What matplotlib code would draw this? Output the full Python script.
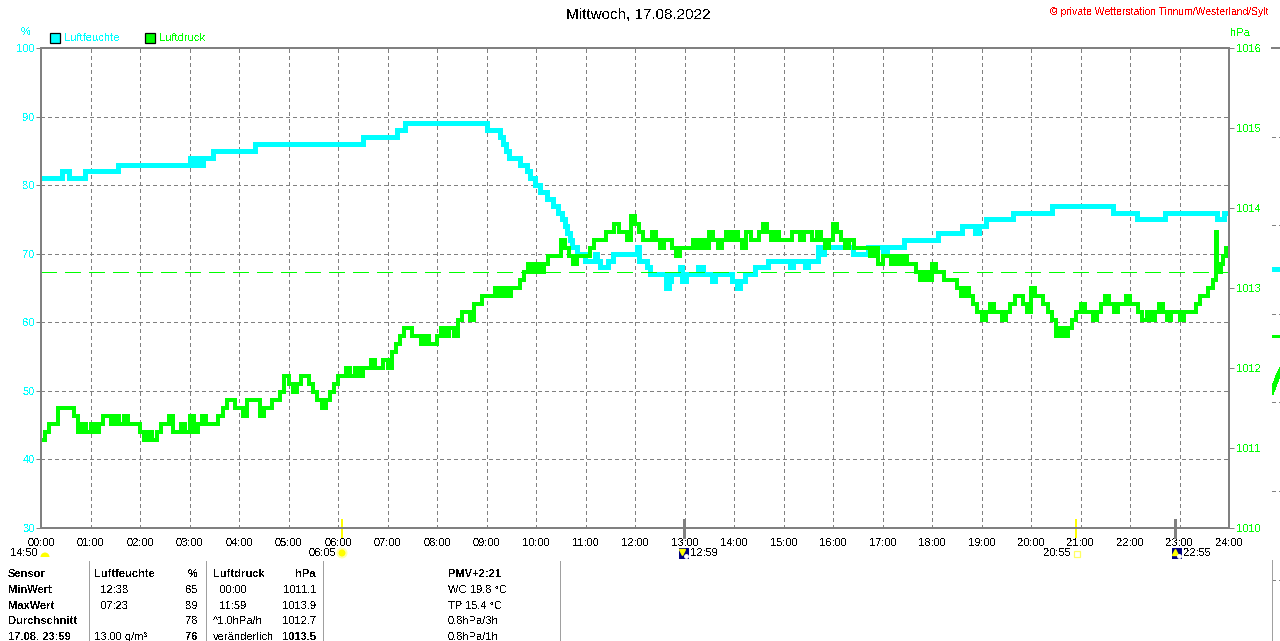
import matplotlib
matplotlib.use("Agg")
import matplotlib.pyplot as plt
import matplotlib.transforms as mtransforms
from matplotlib.lines import Line2D
from matplotlib.patches import Rectangle, Wedge, Circle
import numpy as np

plt.rcParams['font.family'] = ['Liberation Sans', 'DejaVu Sans']
plt.rcParams['text.antialiased'] = False
plt.rcParams['lines.antialiased'] = False

# ---------------- data ----------------
title = "Mittwoch, 17.08.2022"
credit = "\u00a9 private Wetterstation Tinnum/Westerland/Sylt"
hour_labels = ["00:00", "01:00", "02:00", "03:00", "04:00", "05:00", "06:00", "07:00",
               "08:00", "09:00", "10:00", "11:00", "12:00", "13:00", "14:00", "15:00",
               "16:00", "17:00", "18:00", "19:00", "20:00", "21:00", "22:00", "23:00", "24:00"]
hum_ticks = [30, 40, 50, 60, 70, 80, 90, 100]
press_ticks = [1010, 1011, 1012, 1013, 1014, 1015, 1016]

# relative humidity (%), step changes
hum_change_times = ["00:00", "00:25", "00:34", "00:53", "01:33", "03:01", "03:05", "03:09", "03:13", "03:16",
                    "03:28", "04:19", "06:30", "07:12", "07:21", "09:01", "09:16", "09:20", "09:24", "09:27",
                    "09:41", "09:49", "09:53", "09:59", "10:05", "10:13", "10:21", "10:27", "10:32", "10:35",
                    "10:38", "10:41", "10:44", "10:50", "10:59", "11:12", "11:14", "11:18", "11:27", "11:33",
                    "12:02", "12:05", "12:15", "12:18", "12:38", "12:41", "12:44", "12:55", "12:57", "13:02",
                    "13:16", "13:22", "13:33", "13:37", "13:58", "14:04", "14:07", "14:13", "14:25", "14:41",
                    "15:08", "15:12", "15:26", "15:30", "15:42", "15:45", "15:49", "16:24", "16:42", "17:01",
                    "17:05", "17:26", "18:07", "18:36", "18:52", "18:57", "19:05", "19:38", "20:25", "21:39",
                    "22:08", "22:43", "23:46", "23:54", "24:00"]
hum_values = [81, 82, 81, 82, 83, 84, 83, 84, 83, 84,
              85, 86, 87, 88, 89, 88, 87, 86, 85, 84,
              83, 82, 81, 80, 79, 78, 77, 76, 75, 74,
              73, 72, 71, 70, 69, 70, 69, 68, 69, 70,
              71, 69, 68, 67, 65, 66, 67, 68, 66, 67,
              68, 67, 66, 67, 66, 65, 66, 67, 68, 69,
              68, 69, 68, 69, 71, 70, 71, 70, 71, 70,
              71, 72, 73, 74, 73, 74, 75, 76, 77, 76,
              75, 76, 75, 76, 76]

# air pressure (hPa), every 5 minutes from 00:00 to 23:40
press_step_minutes = 5
press_values = [
    1011.1, 1011.2, 1011.3, 1011.3, 1011.5, 1011.5, 1011.5, 1011.5, 1011.4, 1011.2, 1011.3, 1011.2,
    1011.3, 1011.2, 1011.3, 1011.4, 1011.4, 1011.3, 1011.4, 1011.3, 1011.4, 1011.3, 1011.3, 1011.3,
    1011.2, 1011.1, 1011.2, 1011.1, 1011.2, 1011.3, 1011.3, 1011.4, 1011.2, 1011.2, 1011.3, 1011.2,
    1011.4, 1011.2, 1011.3, 1011.4, 1011.3, 1011.3, 1011.3, 1011.4, 1011.5, 1011.6, 1011.6, 1011.5,
    1011.5, 1011.4, 1011.6, 1011.6, 1011.6, 1011.4, 1011.5, 1011.5, 1011.6, 1011.6, 1011.7, 1011.9,
    1011.8, 1011.7, 1011.8, 1011.9, 1011.9, 1011.8, 1011.7, 1011.6, 1011.5, 1011.6, 1011.7, 1011.8,
    1011.9, 1011.9, 1012.0, 1011.9, 1012.0, 1011.9, 1012.0, 1012.0, 1012.1, 1012.0, 1012.0, 1012.1,
    1012.0, 1012.2, 1012.3, 1012.4, 1012.5, 1012.5, 1012.4, 1012.4, 1012.3, 1012.4, 1012.3, 1012.3,
    1012.4, 1012.5, 1012.4, 1012.5, 1012.4, 1012.6, 1012.7, 1012.7, 1012.6, 1012.8, 1012.8, 1012.9,
    1012.9, 1012.9, 1013.0, 1012.9, 1013.0, 1012.9, 1013.0, 1013.0, 1013.1, 1013.2, 1013.3, 1013.2,
    1013.3, 1013.2, 1013.3, 1013.4, 1013.4, 1013.4, 1013.6, 1013.5, 1013.4, 1013.3, 1013.4, 1013.4,
    1013.4, 1013.5, 1013.6, 1013.6, 1013.6, 1013.7, 1013.7, 1013.8, 1013.7, 1013.7, 1013.6, 1013.9,
    1013.8, 1013.7, 1013.6, 1013.6, 1013.7, 1013.6, 1013.5, 1013.6, 1013.6, 1013.5, 1013.4, 1013.5,
    1013.5, 1013.5, 1013.6, 1013.5, 1013.6, 1013.5, 1013.7, 1013.6, 1013.5, 1013.6, 1013.7, 1013.6,
    1013.7, 1013.6, 1013.5, 1013.7, 1013.6, 1013.6, 1013.7, 1013.8, 1013.7, 1013.6, 1013.7, 1013.6,
    1013.6, 1013.6, 1013.7, 1013.7, 1013.6, 1013.7, 1013.7, 1013.6, 1013.7, 1013.6, 1013.5, 1013.6,
    1013.8, 1013.7, 1013.6, 1013.5, 1013.6, 1013.5, 1013.5, 1013.5, 1013.5, 1013.4, 1013.5, 1013.3,
    1013.4, 1013.4, 1013.3, 1013.4, 1013.3, 1013.4, 1013.3, 1013.3, 1013.2, 1013.1, 1013.2, 1013.1,
    1013.3, 1013.2, 1013.2, 1013.1, 1013.1, 1013.1, 1013.0, 1012.9, 1013.0, 1012.9, 1012.8, 1012.7,
    1012.6, 1012.7, 1012.8, 1012.7, 1012.7, 1012.6, 1012.7, 1012.8, 1012.9, 1012.9, 1012.8, 1012.7,
    1013.0, 1012.9, 1012.9, 1012.8, 1012.7, 1012.6, 1012.4, 1012.5, 1012.4, 1012.5, 1012.6, 1012.7,
    1012.8, 1012.7, 1012.7, 1012.6, 1012.7, 1012.8, 1012.9, 1012.8, 1012.7, 1012.8, 1012.8, 1012.9,
    1012.8, 1012.8, 1012.7, 1012.6, 1012.7, 1012.6, 1012.7, 1012.8, 1012.7, 1012.6, 1012.7, 1012.7,
    1012.6, 1012.7, 1012.7, 1012.7, 1012.8, 1012.9, 1012.9, 1013.0, 1013.1]
# last minutes of the day (spike and rise)
press_tail_times = ["23:44", "23:45", "23:47", "23:50", "23:53", "23:56", "24:00"]
press_tail_values = [1013.7, 1013.2, 1013.2, 1013.3, 1013.4, 1013.5, 1013.5]
press_reference = 1013.2

# sun / moon events
sunrise, sunset = "06:05", "20:55"
moon_events = ["12:59", "22:55"]
moon_prev = "14:50"

# summary table
table_header = ["Sensor", "Luftfeuchte", "%", "Luftdruck", "hPa", "PMV+2:21"]
row_labels = ["MinWert", "MaxWert", "Durchschnitt", "17.08. 23:59"]
hum_time_col = ["  12:38", "  07:23", "", "13.00 g/m\u00b3"]
hum_val_col = ["65", "89", "78", "76"]
press_time_col = ["  00:00", "  11:59", "^1.0hPa/h", "ver\u00e4nderlich"]
press_val_col = ["1011.1", "1013.9", "1012.7", "1013.5"]
extra_col = ["WC 19.8 \u00b0C", "TP 15.4 \u00b0C", "0.8hPa/3h", "0.8hPa/1h"]

# neighbouring panel fragment at the right edge
next_hum_times = [0.0, 0.2]
next_hum = [67.8, 67.8]
next_press_times = [0.0, 0.06, 0.12, 0.2]
next_press = [1011.7, 1011.8, 1011.9, 1012.0]
next_ref = 1012.4

# ---------------- styling ----------------
W, H = 1280, 641
CYAN = "#00FFFF"
GREEN = "#00FF00"
GRAY = "#808080"
YELLOW = "#FFFF00"
NAVY = "#000080"
FS = 8


def to_hours(s):
    h, m = s.split(":")
    return int(h) + int(m) / 60.0


def fx(px):
    return px / W


def fy(py):
    return 1 - py / H


ident = mtransforms.IdentityTransform()

fig = plt.figure(figsize=(W / 100, H / 100), dpi=100)
fig.patch.set_facecolor("white")

ax = fig.add_axes([fx(41), fy(528), 1188 / W, 480 / H])
ax.set_xlim(0, 24)
ax.set_ylim(30, 100)
ax.set_xticks(range(25))
ax.set_xticklabels(hour_labels)
ax.set_yticks(hum_ticks)
ax.grid(True, color=GRAY, linewidth=0.72, linestyle=(0, (4, 3)))
ax.set_axisbelow(True)
ax.tick_params(axis="x", length=0, pad=7, labelsize=FS, labelcolor="black")
ax.tick_params(axis="y", length=3.3, width=0.72, color=GRAY, labelcolor=CYAN,
               labelsize=FS, pad=1.2)
for sp in ax.spines.values():
    sp.set_color(GRAY)
    sp.set_linewidth(1.44)

ht = [to_hours(t) for t in hum_change_times]
ax.step(ht, hum_values, where="post", color=CYAN, lw=2.5, solid_joinstyle="miter")

ax2 = ax.twinx()
ax2.set_ylim(1010, 1016)
ax2.set_yticks(press_ticks)
ax2.tick_params(axis="y", length=3.6, width=0.72, color=GRAY, labelcolor=GREEN,
                labelsize=FS, pad=1.2)
for sp in ax2.spines.values():
    sp.set_color(GRAY)
    sp.set_linewidth(1.44)
ax2.axhline(press_reference, color=GREEN, lw=0.9, linestyle=(0, (12, 6.4)))
pt = list(np.arange(len(press_values)) * press_step_minutes / 60.0)
pt += [to_hours(t) for t in press_tail_times]
pv = list(press_values) + list(press_tail_values)
ax2.step(pt, pv, where="post", color=GREEN, lw=2.7, solid_joinstyle="miter")

# event tick marks below the axis
blend = mtransforms.blended_transform_factory(ax.transData, ident)
for ev in (sunrise, sunset):
    ax.plot([to_hours(ev)] * 2, [H - 537, H - 520], transform=blend, color=YELLOW,
            lw=1.44, clip_on=False)
for ev in moon_events:
    ax.plot([to_hours(ev)] * 2, [H - 537, H - 520], transform=blend, color=GRAY,
            lw=1.8, clip_on=False)

# ---------------- texts ----------------
fig.text(fx(638), fy(15), title, ha="center", va="center", fontsize=11, color="black")
fig.text(fx(1268), fy(12), credit, ha="right", va="center", fontsize=7.5, color="red")
fig.text(fx(26), fy(32), "%", ha="center", va="center", fontsize=FS, color=CYAN)
fig.text(fx(1240), fy(33), "hPa", ha="center", va="center", fontsize=FS, color=GREEN)

# legend
fig.add_artist(Rectangle((50, H - 43), 10, 10, transform=ident, facecolor=CYAN,
                         edgecolor="black", lw=0.9))
fig.text(fx(64), fy(38), "Luftfeuchte", ha="left", va="center", fontsize=FS, color=CYAN)
fig.add_artist(Rectangle((145, H - 43), 10, 10, transform=ident, facecolor=GREEN,
                         edgecolor="black", lw=0.9))
fig.text(fx(159), fy(38), "Luftdruck", ha="left", va="center", fontsize=FS, color=GREEN)

# sun / moon labels
ey = 553
fig.text(fx(38), fy(ey), moon_prev, ha="right", va="center", fontsize=FS, color="black")
fig.add_artist(Wedge((45, H - 557), 4.5, 0, 180, transform=ident, facecolor=YELLOW,
                     edgecolor="none"))
fig.text(fx(336), fy(ey), sunrise, ha="right", va="center", fontsize=FS, color="black")
fig.add_artist(Circle((342, H - 553), 5.5, transform=ident, facecolor="#FFFFB0",
                      edgecolor="none"))
fig.add_artist(Circle((342, H - 553), 3.5, transform=ident, facecolor=YELLOW,
                      edgecolor="none"))
fig.text(fx(1071), fy(ey), sunset, ha="right", va="center", fontsize=FS, color="black")
fig.add_artist(Rectangle((1074, H - 557), 6, 6, transform=ident, fill=False,
                         edgecolor="#FFFF60", lw=0.9))
for ev, box_x, mk in ((moon_events[0], 679, "v"), (moon_events[1], 1172, "^")):
    fig.add_artist(Rectangle((box_x, H - 559), 10, 11, transform=ident, facecolor=NAVY,
                             edgecolor="none"))
    fig.add_artist(Line2D([box_x + 3], [H - 552], transform=ident, marker=mk, ms=4,
                          color=YELLOW, lw=0))
    fig.add_artist(Line2D([box_x + 7], [H - 556], transform=ident, marker="o", ms=2.5,
                          color="white", lw=0))
    fig.text(fx(box_x + 11), fy(ey), ev, ha="left", va="center", fontsize=FS, color="black")

# table separators
for sx in (89, 206, 323, 560):
    fig.add_artist(Line2D([sx, sx], [0, H - 561], transform=ident, color="#A0A0A0", lw=0.72))

row_y = [574, 590, 606, 621, 637]
fig.text(fx(8), fy(row_y[0]), table_header[0], ha="left", va="center", fontsize=FS, weight="bold")
fig.text(fx(94), fy(row_y[0]), table_header[1], ha="left", va="center", fontsize=FS, weight="bold")
fig.text(fx(198), fy(row_y[0]), table_header[2], ha="right", va="center", fontsize=FS, weight="bold")
fig.text(fx(213), fy(row_y[0]), table_header[3], ha="left", va="center", fontsize=FS, weight="bold")
fig.text(fx(316), fy(row_y[0]), table_header[4], ha="right", va="center", fontsize=FS, weight="bold")
fig.text(fx(448), fy(row_y[0]), table_header[5], ha="left", va="center", fontsize=FS, weight="bold")
for i in range(4):
    yy = fy(row_y[i + 1])
    last = "bold" if i == 3 else "normal"
    fig.text(fx(8), yy, row_labels[i], ha="left", va="center", fontsize=FS, weight="bold")
    fig.text(fx(94), yy, hum_time_col[i], ha="left", va="center", fontsize=FS)
    fig.text(fx(198), yy, hum_val_col[i], ha="right", va="center", fontsize=FS, weight=last)
    fig.text(fx(213), yy, press_time_col[i], ha="left", va="center", fontsize=FS)
    fig.text(fx(316), yy, press_val_col[i], ha="right", va="center", fontsize=FS, weight=last)
    fig.text(fx(448), yy, extra_col[i], ha="left", va="center", fontsize=FS)

# ---------------- neighbouring panel fragment ----------------
axn = fig.add_axes([fx(1272), fy(528), 1188 / W, 480 / H])
axn.set_xlim(0, 24)
axn.set_ylim(30, 100)
axn.patch.set_alpha(0)
axn.set_xticks([])
axn.set_yticks([])
for s in ("left", "right", "bottom"):
    axn.spines[s].set_visible(False)
axn.spines["top"].set_color(GRAY)
axn.spines["top"].set_linewidth(1.44)
for frac in (0.8146, 0.6313, 0.4458, 0.2625, 0.0771, -0.1083):
    axn.plot([0, 0.2], [frac, frac], transform=axn.get_xaxis_transform(), color=GRAY,
             lw=0.72, linestyle=(0, (4, 3)), clip_on=False)
axn.plot(next_hum_times, next_hum, color=CYAN, lw=2.5)
axn2 = axn.twinx()
axn2.set_ylim(1010, 1016)
axn2.set_yticks([])
for s in axn2.spines.values():
    s.set_visible(False)
axn2.plot(next_press_times, next_press, color=GREEN, lw=2.7)
axn2.plot([0, 0.12], [next_ref, next_ref], color=GREEN, lw=0.9)
fig.add_artist(Line2D([1272, 1272], [0, H - 560], transform=ident, color="#A0A0A0", lw=0.72))

fig.savefig("out.png", dpi=100)
